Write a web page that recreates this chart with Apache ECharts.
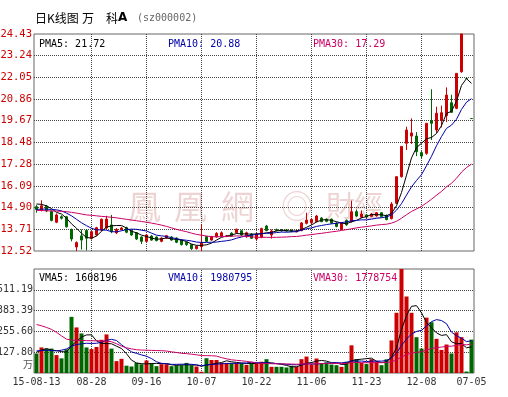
<!DOCTYPE html>
<html><head><meta charset="utf-8">
<script src="https://cdn.jsdelivr.net/npm/echarts@6/dist/echarts.min.js"></script>
<style>html,body{margin:0;padding:0;background:#fff;}#c{width:508px;height:397px;}</style>
</head><body><div id="c"></div>
<script>
const dates = ['15-08-13','15-08-14','15-08-17','15-08-18','15-08-19','15-08-20','15-08-21','15-08-24','15-08-25','15-08-26','15-08-27','15-08-28',
'15-08-31','15-09-01','15-09-02','15-09-07','15-09-08','15-09-09','15-09-10','15-09-11','15-09-14','15-09-15','15-09-16',
'15-09-17','15-09-18','15-09-21','15-09-22','15-09-23','15-09-24','15-09-25','15-09-28','15-09-29','15-09-30','15-10-07',
'15-10-08','15-10-09','15-10-12','15-10-13','15-10-14','15-10-15','15-10-16','15-10-19','15-10-20','15-10-21','15-10-22',
'15-10-23','15-10-26','15-10-27','15-10-28','15-10-29','15-10-30','15-11-02','15-11-03','15-11-04','15-11-05','15-11-06',
'15-11-09','15-11-10','15-11-11','15-11-12','15-11-13','15-11-16','15-11-17','15-11-18','15-11-19','15-11-20','15-11-23',
'15-11-24','15-11-25','15-11-26','15-11-27','15-11-30','15-12-01','15-12-02','15-12-03','15-12-04','15-12-07','15-12-08',
'15-12-09','15-12-10','15-12-11','15-12-14','15-12-15','15-12-16','15-12-17','15-12-18','16-07-04','16-07-05'];

const opens = [14.95,14.78,14.98,14.70,14.10,14.40,14.40,13.70,12.74,13.35,13.65,13.22,13.40,13.67,13.78,13.95,13.52,13.72,13.80,13.66,
13.52,13.29,13.05,13.34,13.29,13.05,13.23,13.29,13.23,13.12,13.00,12.87,12.65,12.76,13.31,13.12,13.29,13.34,13.32,13.50,
13.52,13.63,13.30,13.45,13.18,13.27,13.89,13.40,13.70,13.68,13.68,13.66,13.57,13.64,14.04,14.07,14.13,14.33,14.27,14.27,
14.05,13.71,14.20,14.13,14.68,14.38,14.50,14.42,14.45,14.62,14.48,14.30,15.14,16.60,18.43,18.83,18.83,17.92,17.88,19.67,
19.16,19.70,19.95,20.66,20.35,22.36,21.99,19.79];
const closes = [14.80,15.00,14.72,14.20,14.50,14.32,13.85,13.18,12.98,13.12,13.22,13.58,13.80,14.26,14.27,13.58,13.71,13.78,13.55,13.40,
13.18,13.05,13.40,13.12,13.09,13.23,13.36,13.12,13.00,12.87,12.87,12.65,12.78,12.96,13.05,13.31,13.49,13.52,13.34,13.34,
13.71,13.40,13.52,13.22,13.45,13.75,13.64,13.62,13.64,13.63,13.62,13.60,13.60,14.06,14.22,14.25,14.44,14.13,14.15,14.05,
13.87,14.05,13.96,14.68,14.44,14.55,14.40,14.55,14.62,14.42,14.25,15.10,16.60,18.26,19.16,19.00,17.97,17.73,19.53,19.53,
20.08,20.11,21.08,20.13,22.27,24.43,21.99,19.79];
const lows = [14.62,14.70,14.65,14.15,14.05,14.25,13.80,13.05,12.52,12.60,12.55,13.15,13.35,13.60,13.70,13.50,13.45,13.65,13.50,13.35,
13.12,12.90,13.00,13.08,13.05,13.00,13.18,13.08,12.95,12.82,12.80,12.58,12.60,12.52,13.00,13.08,13.25,13.30,13.28,13.30,
13.48,13.35,13.25,13.18,13.10,13.22,13.60,13.20,13.60,13.58,13.58,13.55,13.55,13.60,13.98,14.00,14.10,14.10,14.10,14.00,
13.82,13.65,13.90,14.08,14.40,14.32,14.33,14.38,14.40,14.38,14.20,14.25,15.10,16.55,18.06,18.40,17.73,17.60,17.80,18.61,
19.00,19.30,19.60,20.10,20.30,22.30,21.99,19.79];
const highs = [15.05,15.30,15.05,14.75,14.58,14.48,14.45,13.75,13.05,13.70,13.72,13.62,13.85,14.30,14.45,14.50,13.78,13.85,13.85,13.70,
13.55,13.32,13.45,13.40,13.32,13.27,13.40,13.33,13.27,13.15,13.03,12.90,12.82,13.99,13.35,13.35,13.55,13.60,13.40,13.55,
13.75,13.68,13.58,13.50,13.50,13.80,13.95,13.70,13.75,13.72,13.72,13.70,13.68,14.10,14.62,14.30,14.50,14.38,14.30,14.30,
14.10,14.10,14.25,15.28,14.80,14.75,14.55,14.60,14.66,14.66,14.52,15.20,16.62,18.26,19.34,19.80,19.05,18.00,19.53,21.40,
20.44,20.50,21.50,21.10,22.27,24.43,21.99,19.79];

// volume in units of 10,000 lots (万)
const volumes = [120,157,150,150,110,90,145,345,280,243,157,147,160,204,237,150,73,87,45,40,
62,54,77,60,42,54,54,42,48,48,62,48,40,8,91,80,80,62,62,60,
62,60,50,60,58,69,85,38,38,38,34,44,38,85,101,52,89,58,65,52,
48,38,69,170,85,62,55,85,70,48,84,200,370,639,470,370,220,150,340,312,
210,142,175,120,250,220,9,205];

const pma5 = [15.10,15.08,15.00,14.85,14.64,14.55,14.32,14.01,13.77,13.49,13.27,13.22,13.34,13.60,13.83,13.90,13.92,13.92,13.78,13.60,
13.52,13.39,13.32,13.23,13.17,13.18,13.24,13.18,13.16,13.12,13.04,12.90,12.83,12.83,12.86,12.95,13.12,13.27,13.34,13.40,
13.48,13.46,13.46,13.44,13.46,13.47,13.52,13.54,13.62,13.66,13.63,13.62,13.62,13.70,13.82,13.95,14.11,14.22,14.24,14.20,
14.13,14.05,14.02,14.12,14.20,14.34,14.41,14.52,14.51,14.51,14.45,14.59,15.00,15.73,16.68,17.63,18.20,18.43,18.68,18.75,
18.97,19.40,20.07,20.19,20.74,21.61,21.98,21.72];
const pma10 = [14.80,14.82,14.82,14.80,14.78,14.72,14.60,14.45,14.26,14.07,13.91,13.77,13.68,13.68,13.66,13.58,13.57,13.63,13.69,13.72,
13.71,13.66,13.62,13.50,13.39,13.35,13.32,13.25,13.20,13.14,13.11,13.07,13.01,12.99,12.99,13.00,13.01,13.05,13.08,13.13,
13.22,13.29,13.36,13.39,13.43,13.47,13.49,13.50,13.53,13.56,13.55,13.57,13.58,13.66,13.74,13.79,13.87,13.92,13.97,14.01,
14.04,14.08,14.12,14.18,14.20,14.23,14.23,14.27,14.32,14.35,14.39,14.50,14.76,15.12,15.59,16.04,16.39,16.71,17.20,17.72,
18.30,18.80,19.25,19.43,19.75,20.29,20.69,20.88];
const pma30 = [14.75,14.74,14.73,14.72,14.71,14.70,14.68,14.64,14.60,14.55,14.50,14.48,14.45,14.42,14.40,14.37,14.34,14.30,14.26,14.22,
14.18,14.14,14.10,14.05,14.00,13.94,13.87,13.79,13.71,13.64,13.58,13.50,13.43,13.39,13.34,13.31,13.30,13.31,13.32,13.33,
13.35,13.34,13.33,13.30,13.27,13.27,13.27,13.27,13.27,13.28,13.29,13.31,13.32,13.35,13.39,13.42,13.46,13.49,13.53,13.57,
13.60,13.65,13.69,13.74,13.79,13.83,13.86,13.90,13.94,13.97,13.99,14.05,14.15,14.32,14.51,14.69,14.83,14.97,15.16,15.36,
15.58,15.79,16.04,16.24,16.51,16.85,17.10,17.29];
const vma5 = [128,140,150,140,137.4,131.4,129,168,194,220.6,234,234.4,197.4,182.2,181,179.6,164.8,150.2,118.4,79,
61.4,57.6,55.6,58.6,59,57.4,57.4,50.4,48,49.2,50.8,49.6,49.2,41.2,49.8,53.4,59.8,64.2,75,68.8,
65.2,61.2,58.8,58.4,58,59.4,64.4,62,57.6,53.6,46.6,38.4,38.4,47.8,60.4,64,73,77,73,63.2,
62.4,52.2,54.4,75.4,82,84.8,88.2,91.4,71.4,64,68.4,97.4,154.4,268.2,352.6,409.8,413.8,369.8,310,278.4,
246.4,230.8,235.8,191.8,179.4,181.4,154.8,160.8];
const vma10 = [136,138,140,138,136,140,148,165,175,179,182.7,181.7,182.7,188.1,200.8,206.8,199.6,173.8,150.3,130,
120.5,111.2,102.9,88.5,69,59.4,57.5,53,53.3,54.1,54.1,53.5,49.8,44.6,49.5,52.1,54.7,56.7,58.1,59.3,
59.3,60.5,61.5,66.7,63.4,62.3,62.8,60.4,58,55.8,53,51.4,50.2,52.7,57,55.3,55.7,57.7,60.4,61.8,
63.2,62.6,65.7,74.2,72.6,73.6,70.2,72.9,73.4,73,76.6,92.8,122.9,169.8,208.3,239.1,255.6,262.1,289.1,315.5,
328.1,322.3,302.8,250.9,228.9,213.9,192.8,198.3];
const vma30 = [298,290,280,268,250,228,208,202,200,200,199,198,198,197,196,192,180,165,155,148,
143,141,140,139,138,137,135,130,126,121,119.1,115.5,111.8,107.1,106.4,106.1,103.9,94.5,87.2,81.1,
78,75.1,71.4,66.6,60.6,57.9,58.3,56.7,56.5,56.4,55.5,55.1,53.8,54.7,56.6,56.6,57.7,58.3,58.8,59,
58.5,58.2,59.1,64.5,64.3,63.7,62.9,63.7,63.9,63.5,64.3,68.9,79.6,98.9,112.6,122.7,127.2,130.9,141,150.1,
156,159.2,163.8,165,169.9,175.5,172.9,177.8];

const priceTicks = [12.52,13.71,14.90,16.09,17.28,18.48,19.67,20.86,22.05,23.24,24.43];
const volTicks = [0,127.80,255.60,383.39,511.19,638.99];
const priceLegend = ['PMA5: 21.72','PMA10: 20.88','PMA30: 17.29'];
const volLegend = ['VMA5: 1608196','VMA10: 1980795','VMA30: 1778754'];
const titleParts = ['日K线图','万','科','A','(sz000002)'];
const watermark = ['鳳','凰','網','◎','財','經'];

const UP = '#cc0000', DOWN = '#006600';
const C5 = '#000000', C10 = '#0000aa', C30 = '#cc0066';
const MONO = '"DejaVu Sans Mono", monospace';
const CJK = '"Noto Sans CJK SC", sans-serif';

const candleData = dates.map((d, i) => [opens[i], closes[i], lows[i], highs[i]]);
const volData = volumes.map((v, i) => {
  const o = opens[i], c = closes[i];
  const up = c > o ? true : c < o ? false : (i > 0 ? c >= closes[i - 1] : true);
  return { value: v, itemStyle: { color: up ? UP : DOWN } };
});

const dotStyle = { color: '#444', width: 1, type: [1, 1] };
const last = dates.length - 1;
const labelShow = (i) => i % 11 === 0 || i === last;
const gridDates = dates.filter((d, i) => i > 0 && i % 11 === 0);
const vLines = {
  silent: true, symbol: ['none', 'none'], label: { show: false }, z: 1,
  emphasis: { disabled: true }, animation: false,
  lineStyle: dotStyle,
  data: gridDates.map((d) => ({ xAxis: d }))
};

function xAxisCfg(gi, showLabel) {
  return {
    type: 'category', gridIndex: gi, data: dates, boundaryGap: true,
    axisLine: { show: false }, axisTick: { show: false },
    axisLabel: {
      show: showLabel, interval: (i) => labelShow(i),
      formatter: (v, i) => (i === 0 ? v : v.slice(3)),
      color: '#333', fontFamily: MONO, fontSize: 10, margin: 4
    },
    splitLine: { show: false }
  };
}

const txt = (x, y, text, fill, font, align) => ({
  type: 'text', x: x, y: y, z: 10,
  style: { text: text, fill: fill, font: font, textAlign: align || 'left', textVerticalAlign: 'middle' }
});
const wm = (x, text, size) => ({
  type: 'text', x: x, y: 206, z: 0, silent: true,
  style: { text: text, fill: 'rgba(200,110,110,0.3)', font: size + 'px "Noto Sans CJK TC", sans-serif', textAlign: 'left', textVerticalAlign: 'middle' }
});

const gridBase = { left: 34, width: 440, show: true, borderColor: '#666', borderWidth: 1, backgroundColor: 'transparent', containLabel: false, outerBoundsMode: 'none' };

const option = {
  animation: false,
  backgroundColor: '#ffffff',
  grid: [
    Object.assign({ top: 34, height: 217 }, gridBase),
    Object.assign({ top: 269, height: 104 }, gridBase)
  ],
  xAxis: [xAxisCfg(0, false), xAxisCfg(1, true)],
  yAxis: [
    {
      type: 'value', gridIndex: 0, min: priceTicks[0], max: priceTicks[priceTicks.length - 1],
      axisLine: { show: false },
      axisTick: { show: false, customValues: priceTicks.slice(1, -1) },
      axisLabel: { customValues: priceTicks, formatter: (v) => v.toFixed(2), color: '#cc0000', fontFamily: MONO, fontSize: 10.5, margin: 2 },
      splitLine: { show: true, lineStyle: dotStyle }
    },
    {
      type: 'value', gridIndex: 1, min: volTicks[0], max: volTicks[volTicks.length - 1],
      axisLine: { show: false },
      axisTick: { show: false, customValues: volTicks.slice(1, -1) },
      axisLabel: { customValues: volTicks.slice(1, -1), formatter: (v) => v.toFixed(2), color: '#333', fontFamily: MONO, fontSize: 10, margin: 1 },
      splitLine: { show: true, lineStyle: dotStyle }
    }
  ],
  graphic: [
    txt(35, 18, titleParts[0], '#000', '12px ' + CJK),
    txt(82, 18, titleParts[1], '#000', '12px ' + CJK),
    txt(106, 18, titleParts[2], '#000', '12px ' + CJK),
    txt(118, 18, titleParts[3], '#000', 'bold 12px "DejaVu Sans", sans-serif'),
    txt(137, 18, titleParts[4], '#666', '10px ' + MONO),
    txt(39, 44, priceLegend[0], C5, '10px ' + MONO),
    txt(168, 44, priceLegend[1], C10, '10px ' + MONO),
    txt(313, 44, priceLegend[2], C30, '10px ' + MONO),
    txt(39, 278, volLegend[0], C5, '10px ' + MONO),
    txt(168, 278, volLegend[1], C10, '10px ' + MONO),
    txt(313, 278, volLegend[2], C30, '10px ' + MONO),
    txt(33, 364, '万', '#555', '10px ' + CJK, 'right'),
    wm(128, watermark[0], 33), wm(174, watermark[1], 33), wm(221, watermark[2], 33),
    wm(281, watermark[3], 32), wm(326, watermark[4], 29), wm(354, watermark[5], 29)
  ],
  series: [
    {
      type: 'candlestick', xAxisIndex: 0, yAxisIndex: 0, data: candleData, barWidth: 3,
      itemStyle: { color: UP, color0: DOWN, borderColor: UP, borderColor0: DOWN, borderColorDoji: DOWN, borderWidth: 1 },
      markLine: vLines
    },
    { type: 'line', xAxisIndex: 0, yAxisIndex: 0, data: pma5, symbol: 'none', lineStyle: { color: C5, width: 1 } },
    { type: 'line', xAxisIndex: 0, yAxisIndex: 0, data: pma10, symbol: 'none', lineStyle: { color: C10, width: 1 } },
    { type: 'line', xAxisIndex: 0, yAxisIndex: 0, data: pma30, symbol: 'none', lineStyle: { color: C30, width: 1 } },
    { type: 'bar', xAxisIndex: 1, yAxisIndex: 1, data: volData, barWidth: 4, markLine: vLines },
    { type: 'line', xAxisIndex: 1, yAxisIndex: 1, data: vma5, symbol: 'none', lineStyle: { color: C5, width: 1 } },
    { type: 'line', xAxisIndex: 1, yAxisIndex: 1, data: vma10, symbol: 'none', lineStyle: { color: C10, width: 1 } },
    { type: 'line', xAxisIndex: 1, yAxisIndex: 1, data: vma30, symbol: 'none', lineStyle: { color: C30, width: 1 } }
  ]
};
const chart = echarts.init(document.getElementById('c'), null, { renderer: 'canvas' });
chart.setOption(option);
</script>
</body></html>
